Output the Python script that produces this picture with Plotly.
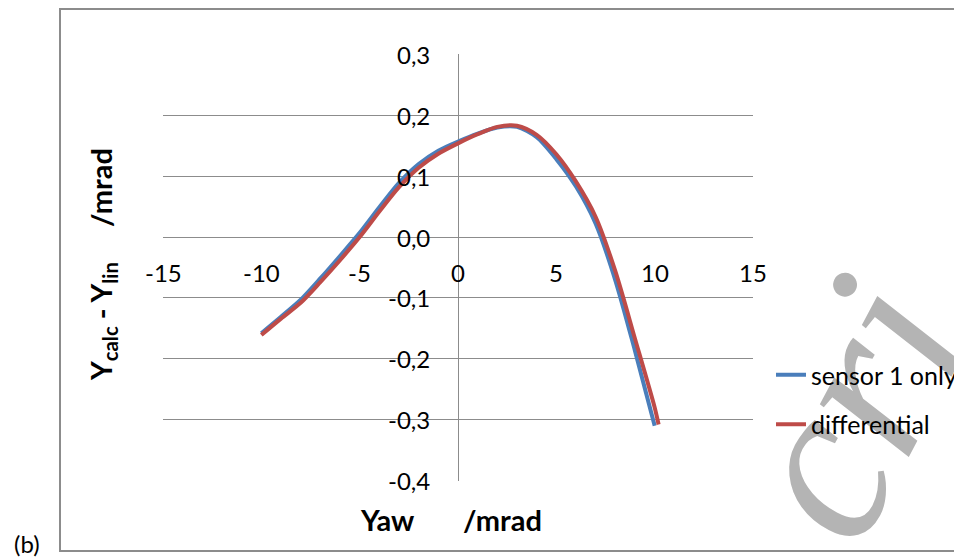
import plotly.graph_objects as go

# ---- data ----
x_sensor = [-10, -9, -8, -7, -6, -5, -4, -3, -2, -1, 0, 1, 2, 3, 4, 5, 6, 7, 8, 9, 10]
y_sensor = [-0.158, -0.131, -0.103, -0.068, -0.031, 0.007, 0.049, 0.089, 0.120, 0.142,
            0.157, 0.170, 0.180, 0.181, 0.164, 0.128, 0.083, 0.022, -0.071, -0.187, -0.310]

x_diff = [-10, -9, -8, -7, -6, -5, -4, -3, -2, -1, 0, 1, 2, 3, 4, 5, 6, 7, 8, 9, 10, 10.2]
y_diff = [-0.161, -0.134, -0.108, -0.074, -0.038, 0.000, 0.042, 0.082, 0.114, 0.137,
          0.154, 0.169, 0.181, 0.183, 0.168, 0.136, 0.091, 0.033, -0.056, -0.167, -0.280, -0.308]

x_ticks = [-15, -10, -5, 0, 5, 10, 15]
x_tick_labels = ["-15", "-10", "-5", "0", "5", "10", "15"]
y_ticks = [0.3, 0.2, 0.1, 0.0, -0.1, -0.2, -0.3, -0.4]
y_tick_labels = ["0,3", "0,2", "0,1", "0,0", "-0,1", "-0,2", "-0,3", "-0,4"]

series_names = ["sensor 1 only", "differential"]
series_colors = ["#4A7EBB", "#BE4B48"]

FONT = "Lato"
FS = 24
TFS = 29

W, H = 954, 557
L, R, T, B = 163, 201, 54, 76
PW, PH = W - L - R, H - T - B


def px(xs):
    return (xs - L) / PW


def py(ys):
    return (H - B - ys) / PH


fig = go.Figure()
fig.add_trace(go.Scatter(x=x_sensor, y=y_sensor, mode="lines", name=series_names[0],
                         legendgroup="a",
                         line=dict(color=series_colors[0], width=4, shape="spline", smoothing=0.8)))
fig.add_trace(go.Scatter(x=x_diff, y=y_diff, mode="lines", name=series_names[1],
                         legendgroup="b",
                         line=dict(color=series_colors[1], width=4, shape="spline", smoothing=0.8)))

annotations = []
for v, t in zip(x_ticks, x_tick_labels):
    annotations.append(dict(x=v, y=0, xref="x", yref="y", text=t, showarrow=False,
                            xanchor="center", yanchor="middle", yshift=-35,
                            font=dict(family=FONT, size=FS, color="black")))
for v, t in zip(y_ticks, y_tick_labels):
    annotations.append(dict(x=0, y=v, xref="x", yref="y", text=t, showarrow=False,
                            xanchor="right", yanchor="middle", xshift=-26,
                            font=dict(family=FONT, size=FS, color="black")))

nb = "\u00a0"
# x axis title
annotations.append(dict(x=px(451), y=py(519), xref="paper", yref="paper",
                        text="<b>Yaw" + nb * 7 + "/mrad</b>", showarrow=False,
                        xanchor="center", yanchor="middle",
                        font=dict(family=FONT, size=TFS, color="black")))
# y axis title
annotations.append(dict(x=px(102), y=py(265), xref="paper", yref="paper",
                        text="<b>Y<sub>calc</sub> - Y<sub>lin</sub>" + nb * 5 + "/mrad</b>",
                        showarrow=False, textangle=-90,
                        xanchor="center", yanchor="middle",
                        font=dict(family=FONT, size=TFS, color="black")))
# panel label
annotations.append(dict(x=px(12), y=py(543), xref="paper", yref="paper",
                        text="(b)", showarrow=False, xanchor="left", yanchor="middle",
                        font=dict(family=FONT, size=FS, color="black")))

wm_cx, wm_cy = 828, 396
shapes = [
    # outer chart border
    dict(type="rect", xref="paper", yref="paper",
         x0=px(60), x1=px(975), y0=py(551), y1=py(9),
         line=dict(color="#8c8c8c", width=2), fillcolor="rgba(0,0,0,0)", layer="below"),
    # watermark
    dict(type="line", xref="paper", yref="paper",
         x0=px(wm_cx - 23), y0=py(wm_cy + 44),
         x1=px(wm_cx + 23), y1=py(wm_cy - 44),
         line=dict(width=0, color="rgba(0,0,0,0)"), layer="below",
         label=dict(text="cri", textangle=-62, textposition="middle", yanchor="middle",
                    font=dict(family="Liberation Serif", size=225, color="#b4b4b4", style="italic"))),
]

fig.update_layout(
    width=W, height=H,
    margin=dict(l=L, r=R, t=T, b=B, autoexpand=False),
    paper_bgcolor="white", plot_bgcolor="rgba(0,0,0,0)",
    font=dict(family=FONT, size=FS, color="black"),
    xaxis=dict(range=[-15, 15], showgrid=False, zeroline=True, zerolinecolor="#8c8c8c",
               zerolinewidth=1.3, showticklabels=False, ticks="", showline=False, fixedrange=True),
    yaxis=dict(range=[-0.4008, 0.3008], tickvals=y_ticks, showgrid=True, gridcolor="#8c8c8c",
               gridwidth=1.3, zeroline=False, showticklabels=False, ticks="", showline=False,
               fixedrange=True),
    showlegend=True,
    legend=dict(xref="container", yref="container",
                x=771 / W, xanchor="left",
                y=1 - 352 / H, yanchor="top",
                bgcolor="rgba(0,0,0,0)", font=dict(family=FONT, size=25, color="black"),
                tracegroupgap=14, itemwidth=30),
    annotations=annotations,
    shapes=shapes,
)

fig.write_html("out.html", config={"displayModeBar": False},
               post_script="document.body.style.margin='0px';")
